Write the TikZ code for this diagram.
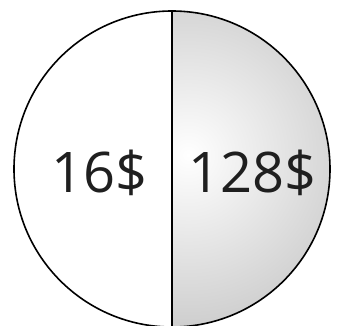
\documentclass[tikz,border=0pt]{standalone}
\usepackage{fontspec}
\setmainfont{Open Sans}
\usetikzlibrary{positioning}

\begin{document}
\begin{tikzpicture}[x=1pt, y=1pt,
  rim/.style={draw, line width=1.6pt},
  price/.style={font=\fontsize{56}{60}\selectfont, text=black!88, inner sep=0pt}
]
  \useasboundingbox (0,0) rectangle (341,325);

  % Disc
  \node[circle, minimum size=316pt, inner sep=0pt] (disc) at (172,156) {};

  % Shaded right half
  \begin{scope}
    \clip (disc.north) arc[start angle=90, end angle=-90, radius=158pt] -- cycle;
    \shade[inner color=white, outer color=gray!58] (188,170) circle[radius=260pt];
  \end{scope}

  % Outline and divider
  \draw[rim] (disc.center) circle[radius=158pt];
  \draw[rim] (disc.north) -- (disc.south);

  % Prices
  \node[price, anchor=base east] (low) at (148,132) {16\$};
  \node[price, anchor=base west] (high) at (188,132) {128\$};
\end{tikzpicture}
\end{document}
